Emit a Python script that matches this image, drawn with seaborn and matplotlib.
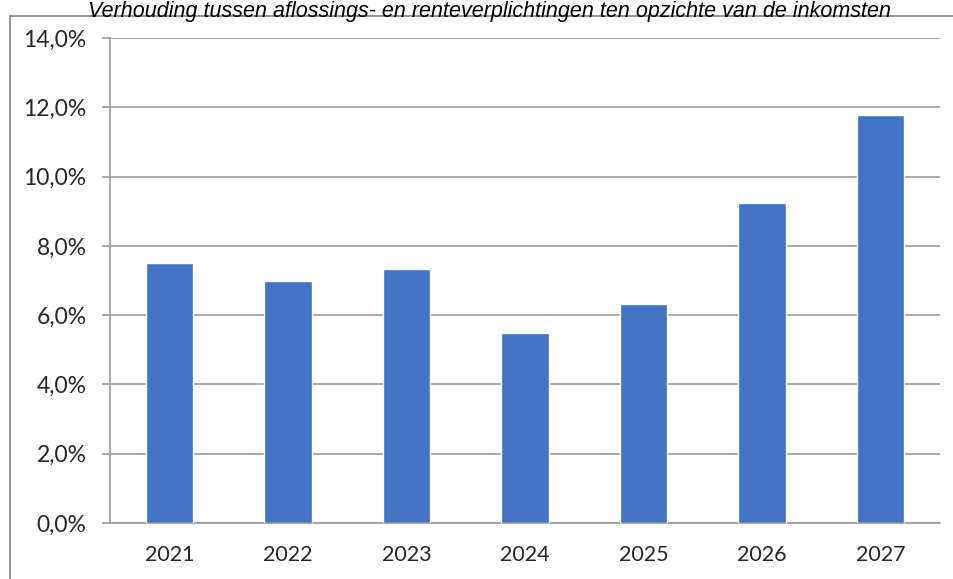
"""
Staafdiagram: verhouding tussen aflossings- en renteverplichtingen
ten opzichte van de inkomsten, 2021-2027.
"""

import matplotlib
matplotlib.use('Agg')
import matplotlib.pyplot as plt
from matplotlib.ticker import FuncFormatter, FixedLocator
from matplotlib.lines import Line2D
import seaborn as sns
import pandas as pd

years = ['2021', '2022', '2023', '2024', '2025', '2026', '2027']
ratios = [7.5, 7.0, 7.33, 5.49, 6.32, 9.24, 11.78]
title = ('Verhouding tussen aflossings- en renteverplichtingen '
         'ten opzichte van de inkomsten')

BAR = '#4472C4'
GRID = '#9A9A9A'
TEXT = '#262626'


def pct(v, pos):
    """Formats a tick value the Dutch way, e.g. 12,0%."""
    return f'{v:.1f}%'.replace('.', ',')


sns.set_style('white')
plt.rcParams['font.family'] = ['Lato', 'DejaVu Sans']

df = pd.DataFrame({'Jaar': years, 'Ratio': ratios})

fig = plt.figure(figsize=(9.54, 5.79), dpi=100)
ax = fig.add_axes([110 / 954, 56 / 579, 830 / 954, 485 / 579])

sns.barplot(data=df, x='Jaar', y='Ratio', color=BAR, width=0.4,
            saturation=1, ax=ax, zorder=3)

ax.set_ylim(0, 14)
ax.set_xlim(-0.5, len(years) - 0.5)
ax.set_yticks(range(0, 15, 2))
ax.yaxis.set_major_formatter(FuncFormatter(pct))
ax.grid(axis='y', color=GRID, linewidth=1.2, zorder=0)
ax.set_axisbelow(True)
ax.set_xlabel('')
ax.set_ylabel('')

# tick marks between the categories, labels in the middle
ax.xaxis.set_minor_locator(FixedLocator([i - 0.5 for i in range(len(years) + 1)]))
ax.tick_params(axis='x', which='major', length=0, pad=16,
               labelsize=15.5, labelcolor=TEXT)
ax.tick_params(axis='x', which='minor', length=7, width=1.2,
               color=GRID, direction='out')
ax.tick_params(axis='y', length=6, width=1.2, color=GRID, pad=11,
               labelsize=16.5, labelcolor=TEXT, left=True)

for side in ['top', 'right']:
    ax.spines[side].set_visible(False)
for side in ['left', 'bottom']:
    ax.spines[side].set_color(GRID)
    ax.spines[side].set_linewidth(1.2)

# outer frame of the cut-out chart
top = 1 - 15.5 / 579
fig.add_artist(Line2D([10 / 954, 1], [top, top],
                      color='#808080', linewidth=1.2))
fig.add_artist(Line2D([10.5 / 954, 10.5 / 954], [0, top],
                      color='#808080', linewidth=1.2))

fig.text(490 / 954, 1 - 1 / 579, title, ha='center', va='top',
         fontsize=15.5, style='italic', color='#000000',
         family=['Liberation Sans', 'DejaVu Sans'])

plt.savefig('out.png', dpi=100)
